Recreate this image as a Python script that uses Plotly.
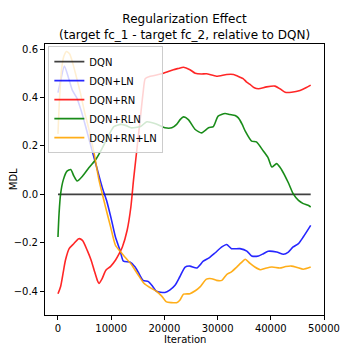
import plotly.graph_objects as go

# DQN baseline (zero line)
dqn_x = [0, 47500]
dqn_y = [0.0, 0.0]

# DQN+LN
ln_x = [0, 500, 1200, 2000, 2700, 3500, 4300, 5200, 6300, 7300, 8300, 9200, 10000, 10800,
        11650, 12300, 13500, 14500, 15300, 16000, 17000, 17800, 18500, 20100, 21000, 22000,
        22900, 23900, 24800, 26100, 27300, 28400, 29500, 30800, 31700, 32600, 34200, 35500,
        36400, 37700, 38600, 39500, 41100, 42400, 43300, 44200, 45200, 46100, 47500]
ln_y = [0.42, 0.47, 0.53, 0.48, 0.43, 0.40, 0.35, 0.28, 0.19, 0.11, 0.03, -0.03, -0.10, -0.176,
        -0.23, -0.276, -0.279, -0.30, -0.33, -0.355, -0.36, -0.38, -0.40, -0.405, -0.395, -0.375,
        -0.34, -0.30, -0.296, -0.304, -0.276, -0.262, -0.242, -0.217, -0.207, -0.224, -0.224, -0.234,
        -0.254, -0.254, -0.245, -0.235, -0.238, -0.247, -0.238, -0.217, -0.203, -0.176, -0.128]

# DQN+RN
rn_x = [0, 500, 1000, 1400, 2100, 3000, 3900, 4600, 5500, 6200, 6800, 7400, 7700, 8300, 9000,
        9900, 10800, 11500, 12100, 13000, 13700, 14200, 14600, 15000, 15500, 16000, 16400, 17200,
        17900, 19800, 21700, 22600, 23600, 24800, 25800, 27000, 27900, 29800, 31700, 33000, 34200,
        34800, 35400, 36100, 36900, 37700, 39200, 40800, 41800, 42700, 43900, 45500, 46600, 47500]
rn_y = [-0.41, -0.38, -0.32, -0.272, -0.224, -0.203, -0.183, -0.19, -0.231, -0.27, -0.313, -0.355,
        -0.368, -0.348, -0.313, -0.297, -0.272, -0.245, -0.217, -0.148, -0.052, 0.06, 0.14, 0.22,
        0.32, 0.42, 0.478, 0.487, 0.49, 0.50, 0.515, 0.52, 0.525, 0.515, 0.50, 0.497, 0.498, 0.488,
        0.495, 0.495, 0.484, 0.478, 0.465, 0.454, 0.44, 0.436, 0.444, 0.447, 0.435, 0.422, 0.422,
        0.429, 0.44, 0.451]

# DQN+RLN
rln_x = [0, 200, 500, 1000, 1700, 2400, 3000, 3600, 4600, 5800, 7100, 8300, 9600, 10500, 11800,
         12700, 13700, 15500, 16700, 18200, 20100, 21400, 22300, 23000, 23600, 24500, 25800, 27000,
         28300, 29200, 30100, 31400, 32300, 33300, 33900, 34600, 35200, 36400, 37300, 38600, 39500,
         40200, 41100, 42000, 43300, 44200, 45200, 46100, 47000, 47500]
rln_y = [-0.176, -0.08, 0.003, 0.06, 0.096, 0.103, 0.075, 0.055, 0.075, 0.11, 0.144, 0.19, 0.247,
         0.28, 0.289, 0.285, 0.275, 0.28, 0.30, 0.293, 0.275, 0.275, 0.289, 0.31, 0.32, 0.309, 0.268,
         0.254, 0.275, 0.28, 0.323, 0.334, 0.33, 0.326, 0.316, 0.29, 0.261, 0.22, 0.217, 0.179, 0.151,
         0.113, 0.127, 0.103, 0.048, 0.003, -0.025, -0.038, -0.045, -0.052]

# DQN+RN+LN
rnln_x = [0, 300, 700, 1100, 1600, 2200, 2800, 3400, 4200, 5000, 5800, 6700, 7700, 8800, 9900,
          10800, 11800, 12700, 13700, 15000, 16200, 17300, 18500, 19500, 20400, 21300, 22300, 22900,
          23600, 24800, 25800, 26700, 27900, 28900, 29800, 30800, 31700, 32600, 33600, 34400, 35200,
          36100, 37000, 38000, 39000, 40200, 41700, 42800, 43900, 45000, 46100, 47500]
rnln_y = [0.25, 0.40, 0.52, 0.57, 0.59, 0.58, 0.54, 0.49, 0.42, 0.34, 0.27, 0.18, 0.06, -0.04,
          -0.135, -0.21, -0.238, -0.262, -0.286, -0.33, -0.368, -0.385, -0.40, -0.42, -0.444, -0.447,
          -0.447, -0.437, -0.412, -0.41, -0.398, -0.382, -0.35, -0.348, -0.355, -0.355, -0.331, -0.32,
          -0.30, -0.283, -0.268, -0.285, -0.30, -0.311, -0.305, -0.30, -0.304, -0.298, -0.296, -0.302,
          -0.309, -0.30]

x_ticks = [0, 10000, 20000, 30000, 40000, 50000]
x_tick_labels = ["0", "10000", "20000", "30000", "40000", "50000"]
y_ticks = [-0.4, -0.2, 0.0, 0.2, 0.4, 0.6]
y_tick_labels = ["\u22120.4", "\u22120.2", "0.0", "0.2", "0.4", "0.6"]

series = [
    ("DQN", dqn_x, dqn_y, "rgba(0,0,0,0.75)"),
    ("DQN+LN", ln_x, ln_y, "rgba(0,0,255,0.85)"),
    ("DQN+RN", rn_x, rn_y, "rgba(255,0,0,0.85)"),
    ("DQN+RLN", rln_x, rln_y, "rgba(0,128,0,0.9)"),
    ("DQN+RN+LN", rnln_x, rnln_y, "rgba(255,165,0,0.9)"),
]

fig = go.Figure()
for name, xs, ys, color in series:
    fig.add_trace(go.Scatter(
        x=xs, y=ys, mode="lines", name=name,
        line=dict(color=color, width=1.6, shape="spline", smoothing=0.6),
    ))

font = "DejaVu Sans"
axis_common = dict(
    showgrid=False, zeroline=False, showline=True, mirror=True, automargin=False,
    linecolor="black", linewidth=1, ticks="outside", ticklen=4,
    tickcolor="black", tickfont=dict(size=10, color="black"),
)

# page body adds an 8px offset, margins compensate for it
fig.update_layout(
    width=360, height=360,
    margin=dict(l=37, r=44, t=36, b=53),
    paper_bgcolor="white", plot_bgcolor="white",
    font=dict(family=font, size=10, color="black"),
    xaxis=dict(range=[-2440, 50000], tickvals=x_ticks, ticktext=x_tick_labels, **axis_common),
    yaxis=dict(range=[-0.498, 0.621], tickvals=y_ticks, ticktext=y_tick_labels, **axis_common),
    legend=dict(
        x=0.012, y=0.992, xanchor="left", yanchor="top",
        bgcolor="rgba(255,255,255,0.8)", bordercolor="#cccccc", borderwidth=1,
        font=dict(size=10), tracegroupgap=0,
    ),
    showlegend=True,
)

# title and axis labels as annotations (placed like the matplotlib original)
fig.add_annotation(
    text="Regularization Effect<br>(target fc_1 - target fc_2, relative to DQN)",
    xref="paper", yref="paper", x=0.5, y=1.0, xanchor="center", yanchor="bottom",
    showarrow=False, font=dict(size=12, color="black"),
)
fig.add_annotation(
    text="Iteration", xref="paper", yref="paper", x=0.5, y=-0.092,
    xanchor="center", yanchor="middle", showarrow=False, font=dict(size=10),
)
fig.add_annotation(
    text="MDL", xref="paper", yref="paper", x=-0.112, y=0.5, textangle=-90,
    xanchor="center", yanchor="middle", showarrow=False, font=dict(size=10),
)

fig.write_html("out.html")
